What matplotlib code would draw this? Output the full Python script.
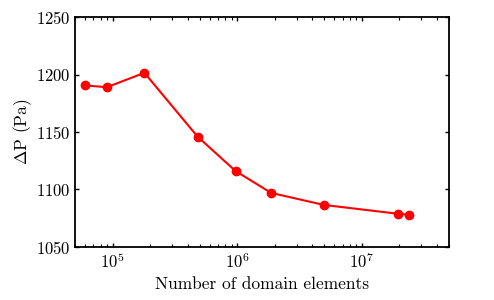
import numpy as np
import matplotlib
matplotlib.use('Agg')
import matplotlib.pyplot as plt

elements = [6.0e4, 9.0e4, 1.8e5, 4.8e5, 9.7e5, 1.87e6, 4.97e6, 1.96e7, 2.4e7]
dp = [1190.5, 1189.0, 1201.5, 1146.0, 1116.0, 1097.0, 1086.5, 1078.8, 1078.0]

plt.rcParams['font.family'] = 'serif'
plt.rcParams['font.serif'] = ['cmr10']
plt.rcParams['mathtext.fontset'] = 'cm'
plt.rcParams['axes.formatter.use_mathtext'] = True

fig = plt.figure(figsize=(4.94, 3.0), dpi=100)
ax = fig.add_axes([0.152, 0.177, 0.757, 0.766])

ax.plot(elements, dp, color='red', marker='o', markersize=6, linewidth=1.5)
ax.set_xscale('log')
ax.set_xlim(5e4, 5e7)
ax.set_ylim(1050, 1250)
ax.set_yticks([1050, 1100, 1150, 1200, 1250])

ax.tick_params(which='both', direction='in', top=True, right=True, labelsize=12)
ax.tick_params(which='major', length=3, width=1)
ax.tick_params(which='minor', length=2, width=0.8)
for s in ax.spines.values():
    s.set_linewidth(1.3)

ax.set_xlabel('Number of domain elements', fontsize=12.5)
ax.set_ylabel(r'$\Delta$P (Pa)', fontsize=12.5, labelpad=1)

fig.savefig('out.png', dpi=100)
